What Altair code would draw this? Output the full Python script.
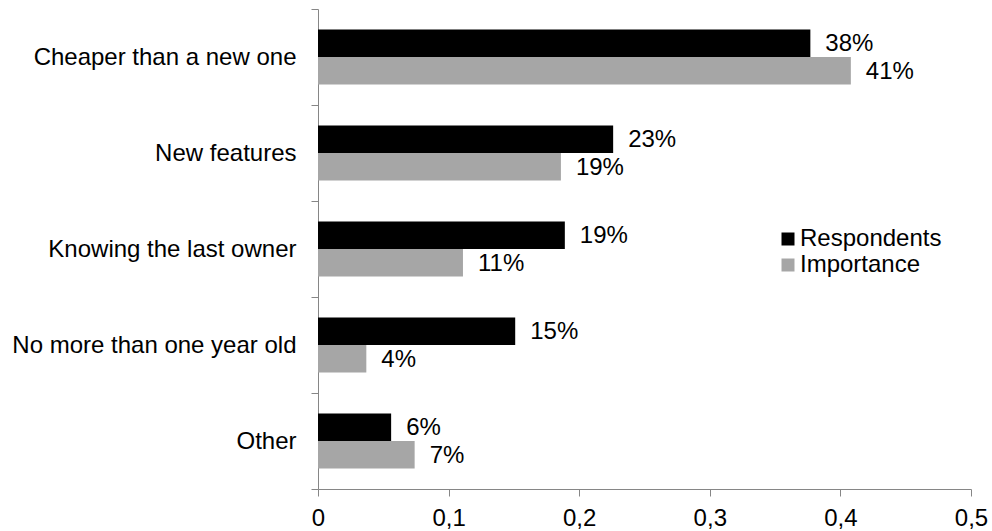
import altair as alt
import pandas as pd

# Survey results: share of respondents naming each reason, and its weighted importance
categories = [
    "Cheaper than a new one",
    "New features\u00a0",
    "Knowing the last owner",
    "No more than one year old",
    "Other",
]
respondents = [0.377, 0.226, 0.189, 0.151, 0.056]
importance = [0.408, 0.186, 0.111, 0.037, 0.074]
series_names = ["Respondents", "Importance"]
series_colors = ["#000000", "#a6a6a6"]
x_ticks = [0, 0.1, 0.2, 0.3, 0.4, 0.5]

rows = []
for cat, r, i in zip(categories, respondents, importance):
    rows.append({"category": cat, "series": "Respondents", "value": r})
    rows.append({"category": cat, "series": "Importance", "value": i})
df = pd.DataFrame(rows)

FONT = "Liberation Sans"
FONT_SIZE = 24
AXIS_GREY = "#868686"

base = alt.Chart(df).encode(
    y=alt.Y(
        "category:N",
        sort=categories,
        scale=alt.Scale(paddingInner=0, paddingOuter=0),
        axis=alt.Axis(
            title=None,
            tickBand="extent",
            ticks=True,
            tickSize=7,
            labelPadding=15,
            labelLimit=0,
            labelFontSize=FONT_SIZE,
            labelFont=FONT,
            labelColor="black",
            domainColor=AXIS_GREY,
            tickColor=AXIS_GREY,
            grid=False,
        ),
    ),
    # the two bars of each category fill the middle ~57% of its band
    yOffset=alt.YOffset(
        "series:N",
        sort=series_names,
        scale=alt.Scale(paddingInner=0, paddingOuter=0.745),
    ),
    x=alt.X(
        "value:Q",
        scale=alt.Scale(domain=[0, 0.5], nice=False),
        axis=alt.Axis(
            title=None,
            values=x_ticks,
            labelExpr="replace(format(datum.value, '.1~f'), '.', ',')",
            grid=False,
            tickSize=7,
            labelPadding=10,
            labelFontSize=FONT_SIZE,
            labelFont=FONT,
            labelColor="black",
            domainColor=AXIS_GREY,
            tickColor=AXIS_GREY,
            labelFlush=False,
        ),
    ),
)

bars = base.mark_bar().encode(
    color=alt.Color(
        "series:N",
        sort=series_names,
        scale=alt.Scale(domain=series_names, range=series_colors),
        legend=alt.Legend(
            title=None,
            orient="none",
            legendX=458,
            legendY=218,
            symbolType="square",
            symbolSize=169,
            symbolStrokeWidth=0,
            labelFontSize=FONT_SIZE,
            labelFont=FONT,
            labelColor="black",
            labelOffset=0,
            rowPadding=2,
            padding=0,
        ),
    )
)

labels = base.mark_text(
    align="left", baseline="middle", dx=15, dy=1, fontSize=FONT_SIZE, font=FONT, color="black"
).encode(text=alt.Text("value:Q", format=".0%"))

chart = (
    alt.layer(bars, labels)
    .properties(
        width=653,
        height=480,
        autosize=alt.AutoSizeParams(type="none"),
        padding={"left": 318, "top": 9, "right": 21, "bottom": 42},
        background="white",
    )
    .configure_view(stroke=None)
)

chart.save("out.html", embed_options={"renderer": "svg", "actions": False})
